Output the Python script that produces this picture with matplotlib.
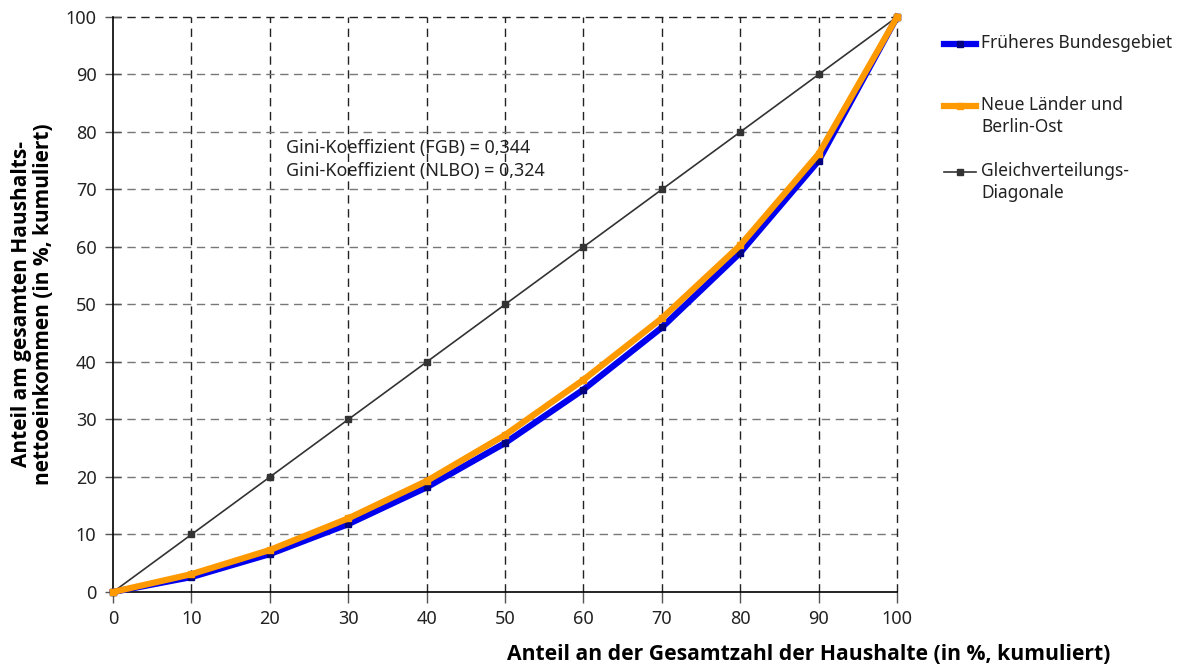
import matplotlib.pyplot as plt
from matplotlib.lines import Line2D

plt.rcParams['font.family'] = ['Noto Sans', 'DejaVu Sans']

# cumulative share of households (%)
share_households = [0, 10, 20, 30, 40, 50, 60, 70, 80, 90, 100]
# cumulative share of net household income (%)
income_fgb = [0, 2.6, 6.6, 11.8, 18.2, 25.9, 35.2, 46.0, 59.0, 75.0, 100]
income_nlbo = [0, 3.1, 7.3, 12.8, 19.3, 27.3, 36.9, 47.6, 60.3, 76.2, 100]
equal_line = [0, 10, 20, 30, 40, 50, 60, 70, 80, 90, 100]

label_fgb = "Früheres Bundesgebiet"
label_nlbo = "Neue Länder und\nBerlin-Ost"
label_equal = "Gleichverteilungs-\nDiagonale"
gini_text = "Gini-Koeffizient (FGB) = 0,344\nGini-Koeffizient (NLBO) = 0,324"

c_fgb = '#0000ee'
c_nlbo = '#ff9900'
c_equal = '#333333'
bold_font = ['Open Sans', 'DejaVu Sans']

fig = plt.figure(figsize=(11.85, 6.68), dpi=100)
ax = fig.add_axes([0.0954, 0.1138, 0.6616, 0.8608])

# grid
for v in range(10, 101, 10):
    ax.axvline(v, color='#222222', lw=1.0, dashes=(6, 4), zorder=0, clip_on=False)
    ax.axhline(v, color='#777777' if v < 100 else '#222222', lw=1.0,
               dashes=(6, 4), zorder=0, clip_on=False)

ax.plot(share_households, equal_line, color=c_equal, lw=1.2,
        marker='s', ms=5, mfc=c_equal, mec=c_equal, zorder=3, clip_on=False)
ax.plot(share_households, income_fgb, color=c_fgb, lw=4.5,
        marker='s', ms=5, mfc='#000080', mec='#000080', zorder=4, clip_on=False)
ax.plot(share_households, income_nlbo, color=c_nlbo, lw=4.5,
        marker='s', ms=5, mfc=c_nlbo, mec=c_nlbo, zorder=5, clip_on=False)

ax.set_xlim(0, 100)
ax.set_ylim(0, 100)
ax.set_xticks(range(0, 101, 10))
ax.set_yticks(range(0, 101, 10))
ax.spines['top'].set_visible(False)
ax.spines['right'].set_visible(False)
ax.spines['left'].set_linewidth(1.2)
ax.spines['bottom'].set_linewidth(1.2)
ax.tick_params(axis='y', direction='inout', length=12, width=1, color='#555555',
               labelsize=13, labelcolor='#222222', pad=6)
ax.tick_params(axis='x', direction='out', length=8, width=1, color='#555555',
               labelsize=13, labelcolor='#222222', pad=5)
ax.set_facecolor('white')

ax.text(22.0, 75.2, gini_text, fontsize=12.9, color='#222222',
        va='center', ha='left', linespacing=1.4)

ax.set_ylabel("Anteil am gesamten Haushalts-\nnettoeinkommen (in %, kumuliert)",
              fontsize=15, fontweight='bold', family=bold_font,
              labelpad=8, linespacing=1.1)
fig.text(1110 / 1185, 1 - 655 / 668,
         "Anteil an der Gesamtzahl der Haushalte (in %, kumuliert)",
         fontsize=15.2, fontweight='bold', family=bold_font,
         ha='right', va='center')

# legend drawn by hand so the keys line up with the first text line
W, H = 1185, 668
legend_items = [
    (44, c_fgb, 4.5, '#000080', label_fgb),
    (106, c_nlbo, 4.5, c_nlbo, label_nlbo),
    (172, c_equal, 1.2, c_equal, label_equal),
]
for ypx, col, lw, mcol, lab in legend_items:
    yf = 1 - ypx / H
    fig.add_artist(Line2D([944 / W, 976 / W], [yf, yf], color=col, lw=lw,
                          transform=fig.transFigure))
    fig.add_artist(Line2D([960 / W], [yf], color=col, marker='s', ms=5,
                          mfc=mcol, mec=mcol, transform=fig.transFigure))
    fig.text(981 / W, yf + 10 / H, lab, fontsize=12.5, color='#222222',
             ha='left', va='top', linespacing=1.3)

fig.savefig('out.png', dpi=100, facecolor='white')
